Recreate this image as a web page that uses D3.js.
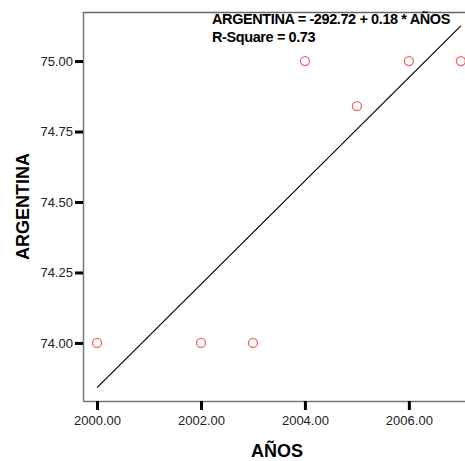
<!DOCTYPE html>
<html><head><meta charset="utf-8">
<script src="https://d3js.org/d3.v7.min.js"></script>
<style>body{margin:0;background:#fff}svg{display:block}</style>
</head><body>
<script>
const years = [2000, 2002, 2003, 2004, 2005, 2006, 2007];
const argentina = [74.00, 74.00, 74.00, 75.00, 74.84, 75.00, 75.00];
const xTicks = [2000, 2002, 2004, 2006];
const yTicks = [74.00, 74.25, 74.50, 74.75, 75.00];
const equationLabel = "ARGENTINA = -292.72 + 0.18 * AÑOS";
const rsqLabel = "R-Square = 0.73";
const xTitle = "AÑOS";
const yTitle = "ARGENTINA";

const W = 465, H = 461;
const L = 83, T = 12, R = 465, B = 401;
const svg = d3.select("body").append("svg").attr("width", W).attr("height", H);

const x = d3.scaleLinear().domain([1999.73, 2007.08]).range([L, R]);
const y = d3.scaleLinear().domain([73.794, 75.174]).range([B, T]);

// frame
svg.append("line").attr("x1", L).attr("x2", R).attr("y1", T + 0.5).attr("y2", T + 0.5)
  .attr("stroke", "#666").attr("stroke-width", 1.5);

const fontTick = "'Liberation Sans', Arial, sans-serif";

const yAxis = svg.append("g").attr("transform", `translate(${L},0)`)
  .call(d3.axisLeft(y).tickValues(yTicks).tickFormat(d3.format(".2f")).tickSize(8).tickPadding(2));
const xAxis = svg.append("g").attr("transform", `translate(0,${B})`)
  .call(d3.axisBottom(x).tickValues(xTicks).tickFormat(d3.format(".2f")).tickSize(9).tickPadding(6));
[yAxis, xAxis].forEach(g => {
  g.select(".domain").attr("stroke", "#777").attr("stroke-width", 1.5);
  g.selectAll(".tick line").attr("stroke", "#000").attr("stroke-width", 3);
  g.selectAll(".tick text").attr("font-family", fontTick).attr("font-size", 13).attr("fill", "#222");
});
yAxis.select(".domain").attr("d", `M0.5,${B}V${T}`);
xAxis.select(".domain").attr("d", `M${L},0.5H${R}`);

// regression line computed from data
const n = years.length;
const mx = d3.mean(years), my = d3.mean(argentina);
let sxy = 0, sxx = 0;
for (let i = 0; i < n; i++) { sxy += (years[i] - mx) * (argentina[i] - my); sxx += (years[i] - mx) ** 2; }
const slope = sxy / sxx, intercept = my - slope * mx;
const xs = [d3.min(years), d3.max(years)];
svg.append("path")
  .attr("d", d3.line().x(d => x(d)).y(d => y(intercept + slope * d))(xs))
  .attr("fill", "none").attr("stroke", "#000").attr("stroke-width", 1.2);

// points
svg.selectAll("circle.pt").data(years).enter().append("circle")
  .attr("cx", d => x(d)).attr("cy", (d, i) => y(argentina[i])).attr("r", 4.5)
  .attr("fill", "none").attr("stroke", "#f06464").attr("stroke-width", 1.3);

// annotations
const ann = svg.append("g").attr("font-family", fontTick).attr("font-weight", "bold")
  .attr("font-size", 14.5).attr("fill", "#000").attr("letter-spacing", -0.4);
ann.append("text").attr("x", 212).attr("y", 24).text(equationLabel);
ann.append("text").attr("x", 212).attr("y", 42).text(rsqLabel);

// titles
svg.append("text").attr("x", (L + R) / 2 + 3).attr("y", 457).attr("text-anchor", "middle")
  .attr("font-family", fontTick).attr("font-weight", "bold").attr("font-size", 18).text(xTitle);
svg.append("text").attr("transform", `translate(29,${(T + B) / 2}) rotate(-90)`).attr("text-anchor", "middle")
  .attr("font-family", fontTick).attr("font-weight", "bold").attr("font-size", 18).text(yTitle);
</script>
</body></html>
